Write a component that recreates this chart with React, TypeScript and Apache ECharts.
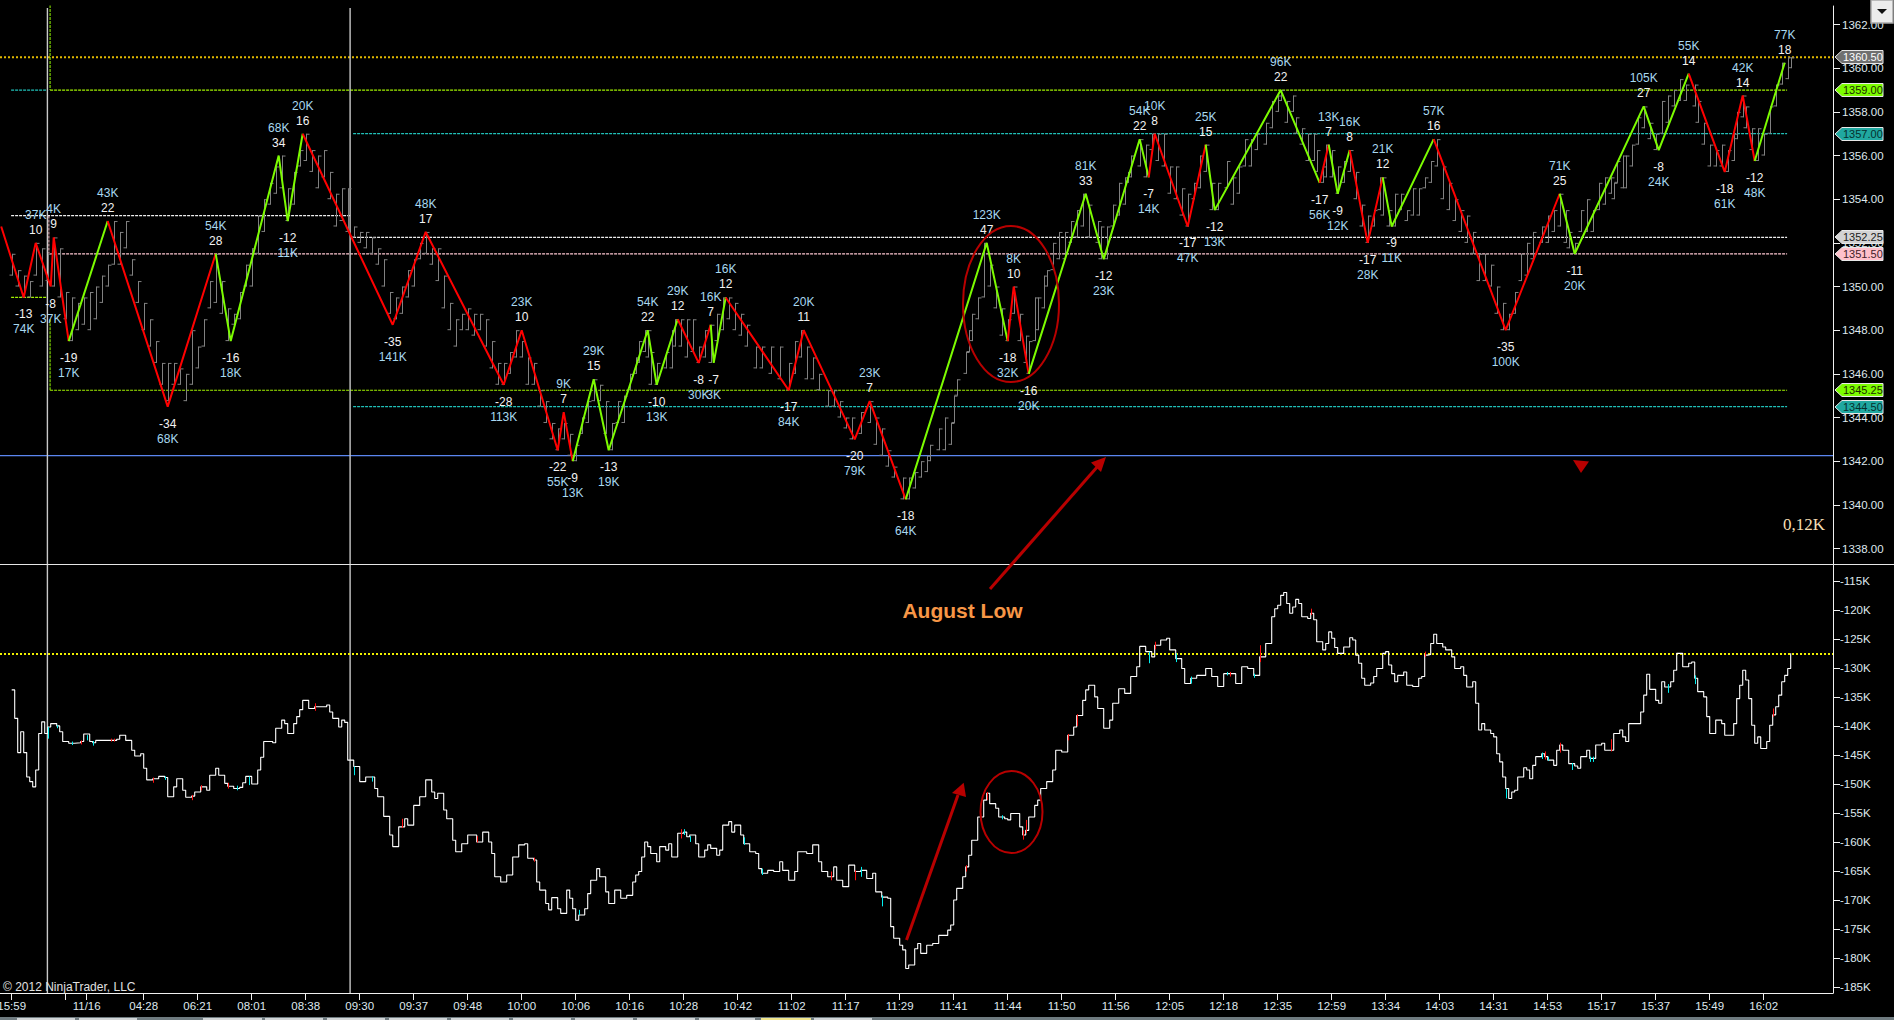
import React, { useEffect, useRef } from "react";
import * as echarts from "echarts";

const FONT = '"Liberation Sans", Arial, sans-serif';

// ---- time axis (bar numbers and their labels)
const tickBars = [0, 18, 25, 44, 62, 80, 98, 116, 134, 152, 170, 188, 206, 224, 242, 260, 278, 296, 314, 332, 350, 368, 386, 404, 422, 440, 458, 476, 494, 512, 530, 548, 566, 584];
const tickTexts = ["15:59", "", "11/16", "04:28", "06:21", "08:01", "08:38", "09:30", "09:37", "09:48", "10:00", "10:06", "10:16", "10:28", "10:42", "11:02", "11:17", "11:29", "11:41", "11:44", "11:50", "11:56", "12:05", "12:18", "12:35", "12:59", "13:34", "14:03", "14:31", "14:53", "15:17", "15:37", "15:49", "16:02"];
const priceTicks = [1338, 1340, 1342, 1344, 1346, 1348, 1350, 1352, 1354, 1356, 1358, 1360, 1362];
const deltaTicks = [-185, -180, -175, -170, -165, -160, -155, -150, -145, -140, -135, -130, -125, -120, -115];

// ---- zigzag swings
const zigBar = [-3.5, 4, 8, 13, 14, 19, 32, 52, 68, 73, 89, 92, 97, 127, 138, 164, 170, 182, 184, 187, 194, 199, 212, 215, 222, 229, 233, 234, 238, 259, 264, 281, 286, 298, 325, 332, 334, 339, 358, 364, 376, 379, 381, 392, 398, 401, 423, 436, 439, 442, 446, 452, 457, 460, 474, 498, 516, 521, 544, 549, 559, 571, 577, 581, 591];
const zigPrice = [1352.75, 1349.5, 1352, 1350, 1352.25, 1347.5, 1353, 1344.5, 1351.5, 1347.5, 1356, 1353, 1357, 1348.25, 1352.5, 1345.5, 1348, 1342.5, 1344.25, 1342, 1345.75, 1342.5, 1348, 1345.5, 1348.5, 1346.5, 1348.25, 1346.5, 1349.5, 1345.25, 1348, 1343, 1344.75, 1340.25, 1352, 1347.5, 1350, 1346, 1354.25, 1351.25, 1356.75, 1355, 1357, 1352.75, 1356.5, 1353.5, 1359, 1354.75, 1356.5, 1354.25, 1356.25, 1352, 1355, 1352.75, 1356.75, 1348, 1354.25, 1351.5, 1358.25, 1356.25, 1359.75, 1355.25, 1358.75, 1355.75, 1360.25];
const zigTicks = ["", "-13", "10", "-8", "9", "-19", "22", "-34", "28", "-16", "34", "-12", "16", "-35", "17", "-28", "10", "-22", "7", "-9", "15", "-13", "22", "-10", "12", "-8", "7", "-7", "12", "-17", "11", "-20", "7", "-18", "47", "-18", "10", "-16", "33", "-12", "22", "-7", "8", "-17", "15", "-12", "22", "-17", "7", "-9", "8", "-17", "12", "-9", "16", "-35", "25", "-11", "27", "-8", "14", "-18", "14", "-12", "18"];
const zigVolume = ["", "74K", "37K", "37K", "4K", "17K", "43K", "68K", "54K", "18K", "68K", "11K", "20K", "141K", "48K", "113K", "23K", "55K", "9K", "13K", "29K", "19K", "54K", "13K", "29K", "30K", "16K", "3K", "16K", "84K", "20K", "79K", "23K", "64K", "123K", "32K", "8K", "20K", "81K", "23K", "54K", "14K", "10K", "47K", "25K", "13K", "96K", "56K", "13K", "12K", "16K", "28K", "21K", "11K", "57K", "100K", "71K", "20K", "105K", "24K", "55K", "61K", "42K", "48K", "77K"];
// colour of each zigzag segment, in order (r = red, g = green)
const zigSegment = "rrrrrgrrggggrrrrrrrgggggrrggrrrrrggrrggggrrrgggrggrrggrrggggrrrg";

// ---- gray price bars: bar, low, high
const priceBars: number[][] = [
  [0,1350.5,1351.5],[2,1350,1350.75],[4,1349.5,1350.5],[6,1349.5,1350.25],[8,1350.5,1352],[10,1350,1351.75],[12,1350.25,1351.5],[14,1350,1352.25],[16,1349.5,1351.75],[18,1348.5,1349.75],[20,1347.5,1349.5],[22,1348,1349.25],[24,1348.25,1349.5],[26,1348,1349.75],[28,1348.5,1350],[30,1349.25,1350.5],[32,1350,1351],[34,1351,1353],[36,1351,1352.5],[38,1351.75,1353],[40,1350.5,1351.25],[42,1349.25,1350.25],[44,1348,1349.25],[46,1347.25,1348.5],[48,1346.5,1347.5],[50,1345.5,1346.5],[52,1344.75,1346.5],[54,1345.5,1346.5],[56,1345.5,1346.25],[58,1344.75,1346],[60,1345.5,1348],[62,1346.25,1347.25],[64,1347.25,1348.5],[66,1349,1350.25],[68,1349.25,1351.5],[70,1348.75,1350.25],[72,1347.5,1349],[74,1348.25,1348.75],[76,1348.5,1349.75],[78,1350,1351],[80,1350,1351.75],[82,1351.5,1353.25],[84,1352.5,1354],[86,1353.75,1354.75],[88,1354.25,1355.5],[90,1354.5,1356],[92,1353,1354.5],[94,1353.75,1355.25],[96,1355.5,1356.25],[98,1355.75,1357],[100,1355.25,1356.25],[102,1354.5,1356],[104,1355,1356.25],[106,1354,1355.25],[108,1352.75,1354.25],[110,1353,1354.5],[112,1352.5,1354.5],[114,1352.25,1352.75],[116,1352,1352.5],[118,1351.75,1352.5],[120,1351.5,1352.25],[122,1351,1351.75],[124,1350,1351.25],[126,1348.75,1349.75],[128,1348.5,1349.5],[130,1348.75,1350],[132,1349.5,1350.75],[134,1350,1351.25],[136,1351.25,1352],[138,1351.5,1352.5],[140,1351,1351.75],[142,1350.25,1351.75],[144,1349,1350.5],[146,1348,1349.25],[148,1347.25,1348.5],[150,1348,1348.75],[152,1348,1349],[154,1347.75,1348.75],[156,1348,1348.75],[158,1347.25,1348.5],[160,1346.25,1347.5],[162,1345.5,1346.5],[164,1345.5,1346.5],[166,1346,1347],[168,1346.75,1348],[170,1346.75,1347.5],[172,1345.5,1346.75],[174,1345.5,1346.5],[176,1344.5,1345.25],[178,1343.75,1344.75],[180,1343,1343.75],[182,1342.5,1343.5],[184,1343,1343.75],[186,1342.25,1343.25],[188,1342,1342.75],[190,1343.25,1344],[192,1343.75,1344.75],[194,1344.75,1345.75],[196,1344.75,1345.5],[198,1343.25,1344.75],[200,1342.5,1343.75],[202,1343.75,1344.75],[204,1343.75,1345],[206,1345.25,1346],[208,1346,1346.75],
  [209,1346.5,1347.5],[211,1347,1348],[212,1346.75,1348],[213,1345.5,1347],[215,1345.5,1346.5],[218,1346.25,1347],[220,1346.25,1348],[221,1347.25,1348.5],[223,1347.25,1348.5],[225,1346.75,1348.5],[227,1347,1348.5],[229,1346.5,1347.25],[231,1346.75,1348],[233,1346.5,1348.25],[235,1347.5,1348.75],[237,1348,1349.5],[239,1348.5,1349.5],[241,1348,1349.25],[243,1347.75,1348.75],[245,1347.25,1348.25],[248,1346.25,1347.25],[250,1346.25,1347.25],[253,1346,1347.25],[256,1345.75,1347.25],[259,1345.25,1346.5],[261,1346,1347.5],[263,1346.75,1348],[265,1345.75,1347.25],[267,1345.75,1346.75],[269,1345.25,1346],[272,1344.5,1345.25],[274,1344.5,1345.25],[276,1344,1344.75],[278,1343.5,1344],[280,1343,1344],[283,1343.25,1344.25],[286,1343.75,1344.75],[288,1342.75,1344],[290,1342.25,1343.5],[292,1341.75,1342.5],[294,1341.25,1341.75],[297,1340.25,1341.25],[299,1340.25,1341.25],[301,1340.75,1341.5],[303,1341.25,1342],[305,1341.5,1342.25],[306,1342,1342.75],[309,1342.5,1343.5],[311,1342.5,1344],[313,1342.75,1343.75],[314,1343.75,1345],[315,1345,1345.75],[318,1346,1347],[319,1347,1348],[320,1347.5,1348.75],[322,1348.5,1349.5],[324,1349.5,1352],[326,1350,1351],[328,1349,1350],[330,1347.75,1349],[332,1347.5,1348.5],[334,1348.75,1350],[336,1347.5,1348.75],[338,1346.5,1347.75],[339,1346,1347.5],[341,1347.5,1349.5],[342,1348,1349.5],[344,1349,1350.5],[345,1350,1350.75],[347,1350.75,1352],[349,1351.25,1352.5],[351,1351.25,1352.5],[353,1352,1353],[355,1352.25,1353.5],[357,1352.75,1354.25],[359,1352.25,1353.75],[362,1352,1353],[363,1351.25,1352.75],[365,1351.25,1352.75],[367,1352.75,1353.75],[369,1353.25,1354.75],[371,1353.75,1355],[372,1354.75,1355.25],[373,1355,1356],[376,1355.5,1356.75],[378,1355,1356.5],[380,1356.25,1357],[382,1355.75,1357],[384,1355.5,1357],[386,1354.25,1355.5],[388,1354,1355.5],[390,1353.25,1354.5],[392,1352.75,1354.25],[394,1354,1354.75],[396,1354.5,1356],[398,1355.25,1356.5],[400,1353.5,1354.75],[402,1353.5,1354.75],[405,1354.5,1355.75],[407,1353.75,1355],[409,1354.25,1355.5],[411,1355.5,1356.75],[413,1355.5,1356.75],[415,1356.25,1357],[418,1356.5,1357.5],[420,1357.25,1358.5],[422,1358,1358.75],
  [423,1358.5,1359],[425,1357.5,1358.5],[427,1358,1358.75],[428,1357,1357.75],[430,1356.5,1357.25],[432,1355.75,1357],[434,1355.75,1357],[435,1355.25,1356.25],[437,1354.75,1355.5],[438,1355,1356.5],[440,1355,1356.25],[442,1354.25,1355.5],[444,1354.75,1355.75],[446,1355.25,1356.25],[448,1354,1355.25],[450,1352.75,1353.75],[452,1352,1353.25],[454,1352.75,1353.5],[456,1353.5,1355],[457,1353.25,1355],[459,1352.75,1353.5],[461,1352.75,1354.25],[463,1353.5,1354.25],[465,1353,1353.5],[467,1353.25,1354.5],[469,1353.25,1354.5],[471,1354.5,1355],[473,1354.75,1355.75],[475,1355.5,1356.75],[477,1354,1355.5],[479,1353.5,1354.75],[481,1353,1354],[483,1352.5,1353.5],[485,1352,1353.25],[487,1351.5,1352.5],[489,1350.25,1351.5],[491,1350.25,1351.5],[493,1350,1351],[495,1348.75,1350],[497,1348,1349.25],[499,1348,1348.75],[501,1348.75,1349.75],[503,1350.25,1351.5],[505,1350.5,1352],[507,1351.25,1352.5],[510,1352,1352.75],[512,1352,1353.25],[514,1352.5,1353.5],[516,1352.75,1354.25],[518,1352,1353.5],[519,1351.75,1352.5],[521,1351.5,1352],[523,1352.5,1353.5],[525,1352.5,1354],[527,1352.5,1353.5],[529,1353.5,1354.75],[531,1353.75,1355],[533,1354.25,1355],[534,1354,1354.75],[535,1354.75,1355.75],[537,1354.5,1356],[538,1354.5,1356],[540,1355.5,1356.5],[542,1356.5,1357.75],[544,1357.25,1358.25],[546,1356.75,1357.5],[548,1356.25,1357],[550,1357,1358.5],[552,1357.5,1358.75],[554,1358.25,1359],[556,1358.5,1359.5],[558,1358.5,1359.25],[561,1358.25,1359.25],[562,1357.5,1358.5],[564,1356.5,1357.5],[566,1355.5,1356.5],[568,1355.5,1356.25],[570,1355.5,1356.5],[572,1355.25,1356.25],[574,1355.75,1357],[575,1356.75,1358],[577,1357.75,1358.75],[578,1357.25,1358.25],[580,1356.25,1357.25],[582,1355.75,1357.25],[584,1356,1357],[586,1357,1358.25],[588,1358.25,1359.25],[590,1359.25,1360.25],[592,1359.5,1360.5],[593,1360,1360.5],
];

// ---- lower pane: cumulative delta, thousands (bar, value)
const deltaEarly: number[][] = [
  [0,-133.8],[1,-138.7],[2,-144.6],[3,-141],[4,-144.6],[5,-148.8],[6,-149.6],[7,-150.5],[8,-147.6],[9,-141.3],[10,-139.3],[11,-141.3],[12,-140.2],[13,-139.6],[14,-139.6],[15,-140],[16,-141],[17,-142.7],[19,-143],[21,-142.9],[23,-142.7],[24,-141.4],[26,-142.7],[27,-142.9],[28,-142.5],[33,-142.5],[35,-142.3],[36,-141.6],[38,-142.5],[40,-144.2],[41,-145.2],[43,-144.8],[44,-147.3],[45,-149.3],[47,-149.1],[49,-148.7],[51,-148.9],[52,-152.2],[54,-150.5],[55,-149.1],[57,-151.1],[58,-152.3],[60,-152.1],[61,-151.4],[63,-150.5],[65,-151.1],[66,-148.5],[68,-147.3],[69,-148.5],[71,-149.9],[72,-150.4],[74,-150.8],[76,-150.6],[77,-149.8],[78,-148.7],[80,-150],[82,-147.6],[83,-145.4],[84,-142.7],[87,-142.9],[88,-140.4],[90,-139],[91,-139.6],[92,-141.3],[94,-139.6],[95,-138.4],[96,-137.2],[97,-135.6],[99,-137],[101,-136.7],[103,-136.7],[105,-136.4],[106,-137.6],[107,-138.7],[109,-140.2],[110,-139],[111,-139.4],[112,-145.9],[114,-147],[116,-149.6],[118,-148.8],[120,-148.8],[121,-150.8],[122,-152.2],[124,-155.6],[126,-158.8],[127,-160.8],[129,-157.4],[131,-156],[132,-157.1],[134,-153.7],[136,-152.2],[138,-149.3],[140,-151.4],[141,-152.5],[142,-151.6],[144,-154.5],[145,-156],[147,-159.7],[148,-161.7],[150,-160.3],[152,-158.8],[155,-160],[157,-158.3],[159,-160],[160,-162],[161,-166],[163,-166.9],[165,-165.7],[167,-162.6],[169,-160.5],[171,-160.3],[172,-162.8],[174,-163.1],[175,-166.9],[176,-168.3],[178,-170.6],[179,-171.7],[180,-169.6],[182,-171.5],[183,-172.3],[185,-168.3],[186,-169.7],[187,-171.5],[188,-173.5],[189,-172.6],[191,-171.5],[192,-168.9],[193,-166.6],[195,-164.6],[196,-166],[198,-168.6],[199,-170.6],[201,-168.3],[203,-169.7],[205,-169.2],[207,-166.9],[208,-165.7],
];
const deltaMiddle: number[][] = [
  [209,-165.1],[210,-162.6],[211,-160],[212,-160.8],[213,-162],[215,-163.4],[216,-160.8],[218,-161.4],[219,-160.3],[220,-162.6],[222,-158.5],[224,-158.3],[225,-159.1],[226,-158.8],[228,-160.3],[229,-162.6],[231,-161.4],[232,-160.5],[233,-161.1],[235,-162.3],[236,-161.4],[237,-157.1],[239,-156.5],[240,-158.3],[241,-157.1],[243,-158.8],[244,-160.3],[246,-161.7],[248,-162],[249,-164.6],[250,-165.4],[252,-164.9],[254,-165.1],[256,-163.4],[257,-164.9],[259,-166.6],[261,-165.1],[262,-161.7],[265,-162],[267,-160.5],[269,-163.4],[270,-165.1],[272,-166],[274,-164.3],[275,-166.6],[277,-167.7],[279,-164],[281,-165.1],[283,-164.9],[285,-166.3],[287,-165.4],[288,-168.6],[290,-169.5],[292,-169.7],[293,-174.6],[294,-176.6],[296,-177.8],[297,-178.6],[298,-181.8],[299,-181.2],[301,-178.4],[302,-177.5],[303,-179.2],[305,-177.8],[307,-177.5],[309,-176.1],[312,-175.2],[313,-174.3],[314,-170],[315,-168],[317,-166],[318,-164.3],[319,-162.3],[320,-159.7],[322,-155.7],[324,-152.8],[325,-151.6],[326,-153.4],[328,-154.2],[329,-155.7],[331,-156],[332,-156.2],[333,-155.1],[335,-155.1],[336,-157.4],[337,-158.8],[338,-158],[339,-155.7],[341,-153.7],[342,-152.8],[343,-150.8],[345,-149.6],[347,-147.6],[348,-144.2],[350,-144.5],[352,-141.6],[354,-140.2],[355,-138.2],[357,-135.6],[358,-133.8],[359,-133],[361,-135],[362,-137],[364,-140.4],[366,-139],[367,-136.1],[369,-133.6],[371,-134.4],[373,-131.5],[375,-129.8],[376,-126.3],[378,-127.2],[380,-128.1],[381,-126.1],[383,-125.2],[385,-124.9],[386,-126.9],[388,-128.4],[390,-130.1],[391,-132.7],[393,-131.8],[395,-131.3],[398,-130.1],[400,-131.5],[402,-133.2],[404,-131],[406,-131],[408,-132.7],[410,-129.8],[412,-130.1],[414,-131.3],[416,-128.1],[418,-125.8],[420,-121.2],[421,-119.8],[422,-119.2],
];
const deltaLate: number[][] = [
  [423,-117.5],[424,-117],[425,-118.9],[426,-120.6],[427,-119.5],[428,-118.2],[429,-118.9],[430,-121.2],[432,-121.5],[433,-120.6],[434,-121.7],[435,-125.5],[437,-126.9],[438,-125.8],[439,-123.8],[440,-124.9],[441,-126.5],[442,-127.5],[444,-126.4],[446,-124.8],[447,-125.2],[448,-127.8],[449,-129.2],[450,-131.8],[451,-133],[453,-132.6],[454,-131.5],[455,-130.1],[457,-127.5],[458,-127.2],[459,-129.5],[460,-131],[461,-132.4],[462,-131.3],[464,-130.7],[465,-133],[467,-133.2],[469,-131.8],[470,-131.5],[471,-127.8],[472,-127.7],[473,-125.8],[474,-124.2],[475,-125.8],[477,-126.4],[478,-126.9],[480,-128.1],[481,-130.1],[483,-129.8],[484,-131.3],[485,-133.3],[487,-132.4],[488,-136.1],[489,-140.7],[490,-139.6],[491,-140.7],[493,-141.3],[494,-141.9],[495,-144.8],[496,-146.2],[497,-148.8],[498,-150.8],[499,-152.5],[500,-151.4],[501,-151.1],[502,-148.8],[504,-147.2],[505,-147.6],[506,-149.1],[507,-146.8],[508,-145.3],[510,-144.8],[511,-145.3],[512,-145.9],[514,-146.8],[515,-144.2],[516,-143.3],[517,-144.2],[519,-146.5],[521,-146.9],[522,-147.3],[523,-145.3],[525,-144.2],[526,-145.6],[527,-145.6],[528,-143.3],[530,-143],[531,-144.2],[533,-144.2],[534,-141.3],[536,-140.7],[537,-141.9],[538,-142.7],[539,-139.6],[541,-139.6],[543,-137.6],[544,-134.7],[545,-131.1],[546,-133.7],[548,-135.6],[549,-136.1],[550,-132.4],[551,-133.3],[553,-132.4],[554,-130.4],[555,-127.5],[557,-129.8],[559,-129.2],[560,-129],[561,-131.8],[562,-134.1],[564,-135],[565,-138.4],[566,-141.3],[568,-139],[570,-139.6],[571,-141.6],[573,-141.6],[574,-139.6],[575,-135.3],[576,-133],[577,-130.4],[578,-132.1],[579,-135.3],[580,-139.9],[581,-143],[582,-141.9],[583,-143.9],[585,-142.7],[586,-139.9],[587,-138.1],[588,-136.7],[589,-134.7],[590,-132.4],[591,-131.3],[592,-130.1],[593,-127.5],
];
// highlighted delta bars: bar, top, bottom
const deltaRed: number[][] = [[23,-142.5,-143.2],[33,-142.2,-142.7],[34,-142.2,-142.7],[47,-148.9,-149.8],[60,-151.9,-152.8],[63,-150.2,-151.1],[72,-149.8,-150.8],[101,-136.1,-137.4],[130,-156,-157.6],[155,-159,-160.1],[174,-162.7,-163.4],[223,-157.8,-159.4],[273,-165.1,-166.6],[281,-164.9,-166.6],[318,-164,-165.1],[325,-151.4,-152.8],[337,-158,-159.6],[338,-156.2,-158.5],[352,-141.4,-142.5],[355,-138,-140],[381,-125.5,-126.8],[406,-130.7,-131.5],[416,-126.1,-129],[433,-119.8,-120.9],[471,-127.2,-128.1],[511,-144.4,-145.8],[516,-142.9,-144.6],[533,-142.3,-144.4],[587,-137,-138.4]];
const deltaCyan: number[][] = [[12,-140.2,-142.2],[15,-139.9,-140.4],[20,-142.7,-143.3],[25,-141.6,-142.5],[27,-142.6,-143.4],[51,-148.7,-149.3],[75,-150.3,-151.1],[79,-148.7,-150.2],[114,-147,-148.5],[120,-148.7,-149.6],[189,-171.7,-172.6],[224,-157.8,-158.8],[226,-159,-160],[244,-159.2,-160.5],[250,-164.6,-165.7],[283,-164.3,-166],[290,-169.2,-171.1],[330,-155.4,-156.1],[379,-127.2,-129.2],[388,-127.5,-129],[393,-131.5,-132.7],[405,-130.7,-131.3],[414,-131,-131.7],[498,-150.8,-152.5],[510,-144.6,-145.7],[512,-145.3,-146],[520,-146.4,-147.6],[526,-145.3,-146.2],[527,-145.3,-146.2],[552,-132.8,-134.3],[561,-131.3,-132.8]];

// ---- horizontal levels
const levelPrices = [1359, 1359, 1357, 1353.25, 1352.25, 1351.5, 1349.5, 1345.25, 1344.5];
const levelFrom = [12.8, -0.2, 113.8, -0.2, 113.8, 12.8, -0.2, 12.8, 113.8];
const levelTo = [591.8, 11.9, 591.8, 112.8, 591.8, 591.8, 11.5, 591.8, 591.8];
const levelColors = ["#a0f000", "#20c0b8", "#20c0b8", "#eeeeee", "#eeeeee", "#ffc8d2", "#a0f000", "#a0f000", "#20c0b8"];
const highPrice = 1360.5;
const blueLevel = 1342.25;
const deltaLevel = -127.6;

// ---- price tags on the right
const tagPrices = [1360.5, 1359, 1357, 1352.25, 1351.5, 1345.25, 1344.5];
const tagFills = ["#707070", "#7cfc00", "#20a8a0", "#d3d3d3", "#ffc0cb", "#7cfc00", "#20a8a0"];
const tagTexts = ["#ffffff", "#1c2a00", "#06302e", "#202020", "#402028", "#1c2a00", "#06302e"];

const X_MIN = -3.9;
const X_MAX = 607.1;
const GREEN = "#7cfc00";
const RED = "#ff0000";

function level(y: number, from: number, to: number, color: string, dash: any, width: number, xi = 0): any {
  return {
    type: "line", xAxisIndex: xi, yAxisIndex: xi, silent: true, showSymbol: false, z: 2,
    data: [[from, y], [to, y]],
    lineStyle: { color, width, type: dash },
  };
}
function vertical(x: number, top: number, bottom: number, color: string, dash: any, width: number, xi = 0): any {
  return {
    type: "line", xAxisIndex: xi, yAxisIndex: xi, silent: true, showSymbol: false, z: 2,
    data: [[x, top], [x, bottom]],
    lineStyle: { color, width, type: dash },
  };
}

function App() {
  const ref = useRef<HTMLDivElement>(null);
  useEffect(() => {
    document.body.style.margin = "0";
    document.body.style.background = "#000";
    const chart = echarts.init(ref.current as HTMLDivElement, undefined, { renderer: "svg" });

    // zigzag runs of one colour
    const zigSeries: any[] = [];
    let start = 0;
    for (let s = 1; s < zigBar.length; s++) {
      const c = zigSegment[s - 1];
      if (s === zigBar.length - 1 || zigSegment[s] !== c) {
        const pts = [];
        for (let k = start; k <= s; k++) pts.push([zigBar[k], zigPrice[k]]);
        zigSeries.push({
          type: "line", xAxisIndex: 0, yAxisIndex: 0, silent: true, showSymbol: false, z: 4,
          data: pts, lineStyle: { color: c === "g" ? GREEN : RED, width: 2 },
        });
        start = s;
      }
    }

    // swing labels
    const labelData = zigBar.map((b, i) => {
      if (!zigVolume[i]) return null;
      const peak = zigPrice[i] > zigPrice[i - 1];
      return {
        value: [b, zigPrice[i]],
        label: {
          position: peak ? "top" : "bottom",
          distance: peak ? 5 : 9,
          formatter: peak ? `{k|${zigVolume[i]}}\n{n|${zigTicks[i]}}` : `{n|${zigTicks[i]}}\n{k|${zigVolume[i]}}`,
        },
      };
    }).filter(Boolean);

    const ohlcItem = (color: string, wickTick: boolean) => (_: any, api: any) => {
      const b = api.value(0);
      const a = api.coord([b, api.value(1)]);
      const c = api.coord([b, api.value(2)]);
      const x = Math.round(a[0]) + 0.5;
      const children: any[] = [
        { type: "line", shape: { x1: x, y1: a[1], x2: x, y2: c[1] }, style: { stroke: color, lineWidth: 1 } },
      ];
      if (wickTick) {
        children.push({ type: "line", shape: { x1: x - 3, y1: a[1] - 0.5, x2: x, y2: a[1] - 0.5 }, style: { stroke: color, lineWidth: 1 } });
        children.push({ type: "line", shape: { x1: x, y1: c[1] + 0.5, x2: x + 3, y2: c[1] + 0.5 }, style: { stroke: color, lineWidth: 1 } });
      }
      return { type: "group", children };
    };

    const tagItem = (p: any, api: any) => {
      const i = p.dataIndex;
      const c = api.coord([X_MAX, api.value(1)]);
      const x0 = c[0] + 2;
      const y = Math.round(c[1]);
      return {
        type: "group",
        children: [
          {
            type: "polygon",
            shape: { points: [[x0, y], [x0 + 7, y - 6.5], [x0 + 48, y - 6.5], [x0 + 48, y + 6.5], [x0 + 7, y + 6.5]] },
            style: { fill: tagFills[i], stroke: "#e8e8e8", lineWidth: 1 },
          },
          {
            type: "text",
            style: { text: tagPrices[i].toFixed(2), x: x0 + 8, y, fill: tagTexts[i], font: `11px ${FONT}`, textVerticalAlign: "middle", verticalAlign: "middle" },
          },
        ],
      };
    };

    const series: any[] = [
      level(highPrice, X_MIN, X_MAX, "#e0b800", [2, 2], 2),
      ...levelPrices.map((p, i) => level(p, levelFrom[i], levelTo[i], levelColors[i], [3, 1], 1.2)),
      level(blueLevel, X_MIN, X_MAX, "#5b86f0", "solid", 1.2),
      vertical(12.8, 1362.9, 1359, "#7cd000", [3, 1], 1.2),
      vertical(12.8, 1348.5, 1345.25, "#7cd000", [3, 1], 1.2),
      vertical(12.4, 1353.25, 1351.5, "#ffc0cb", [3, 1], 1),
      vertical(11.9, 1362.76, 1337.29, "#c8c8c8", "solid", 1.4),
      vertical(112.8, 1362.76, 1337.29, "#c8c8c8", "solid", 1.4),
      vertical(11.9, -112.1, -186.03, "#c8c8c8", "solid", 1.4, 1),
      vertical(112.8, -112.1, -186.03, "#c8c8c8", "solid", 1.4, 1),
      level(deltaLevel, X_MIN, X_MAX, "#f0f000", [2, 2], 2, 1),
      {
        type: "custom", xAxisIndex: 0, yAxisIndex: 0, silent: true, z: 3, data: priceBars,
        encode: { x: 0, y: [1, 2] }, renderItem: ohlcItem("#808080", true),
      },
      ...zigSeries,
      {
        type: "scatter", xAxisIndex: 0, yAxisIndex: 0, silent: true, z: 5, symbolSize: 1,
        itemStyle: { color: "rgba(0,0,0,0)" }, data: labelData,
        label: {
          show: true,
          opacity: 1,
          fontFamily: FONT,
          rich: {
            k: { color: "#a8d8f0", fontSize: 12, lineHeight: 15, fontFamily: FONT },
            n: { color: "#f2f2f2", fontSize: 12, lineHeight: 15, fontFamily: FONT },
          },
        },
      },
      {
        type: "line", xAxisIndex: 1, yAxisIndex: 1, silent: true, showSymbol: false, z: 3, step: "end",
        data: [...deltaEarly, ...deltaMiddle, ...deltaLate], lineStyle: { color: "#ffffff", width: 1.1 },
      },
      {
        type: "custom", xAxisIndex: 1, yAxisIndex: 1, silent: true, z: 4, data: deltaRed,
        encode: { x: 0, y: [1, 2] }, renderItem: ohlcItem("#ff1010", false),
      },
      {
        type: "custom", xAxisIndex: 1, yAxisIndex: 1, silent: true, z: 4, data: deltaCyan,
        encode: { x: 0, y: [1, 2] }, renderItem: ohlcItem("#00f0f0", false),
      },
      {
        type: "custom", xAxisIndex: 0, yAxisIndex: 0, silent: true, z: 6, clip: false,
        data: tagPrices.map((p) => [X_MAX, p]), encode: { x: 0, y: 1 }, renderItem: tagItem,
      },
    ];

    const yAxisBase = {
      position: "right", splitLine: { show: false },
      axisLine: { show: true, onZero: false, lineStyle: { color: "#f0f0f0", width: 1 } },
    };
    const deep = "#b80000";
    chart.setOption({
      animation: false,
      backgroundColor: "#000000",
      textStyle: { fontFamily: FONT },
      tooltip: { show: false },
      legend: { show: false },
      grid: [
        { left: 0, top: 6, width: 1833, height: 558, containLabel: false, outerBoundsMode: "none" },
        { left: 0, top: 564, width: 1833, height: 429, containLabel: false, outerBoundsMode: "none" },
      ],
      xAxis: [
        { type: "value", gridIndex: 0, min: X_MIN, max: X_MAX, show: false, splitLine: { show: false } },
        {
          type: "value", gridIndex: 1, min: X_MIN, max: X_MAX, position: "bottom", splitLine: { show: false },
          axisLine: { show: true, onZero: false, lineStyle: { color: "#f0f0f0", width: 1 } },
          axisTick: { show: true, length: 7, customValues: tickBars, lineStyle: { color: "#f0f0f0" } },
          axisLabel: {
            show: true, margin: 7, color: "#dfe8ee", fontSize: 11.5, fontFamily: FONT,
            customValues: tickBars.filter((_, i) => tickTexts[i] !== ""),
            formatter: (v: number) => tickTexts[tickBars.indexOf(v)],
          },
        },
      ],
      yAxis: [
        {
          ...yAxisBase, type: "value", gridIndex: 0, min: 1337.29, max: 1362.85,
          axisTick: { show: true, length: 7, customValues: priceTicks, lineStyle: { color: "#f0f0f0" } },
          axisLabel: {
            show: true, margin: 9, color: "#dfe8ee", fontSize: 11.5, fontFamily: FONT,
            customValues: priceTicks, formatter: (v: number) => v.toFixed(2),
          },
        },
        {
          ...yAxisBase, type: "value", gridIndex: 1, min: -186.03, max: -112.1,
          axisTick: { show: true, length: 7, customValues: deltaTicks, lineStyle: { color: "#f0f0f0" } },
          axisLabel: {
            show: true, margin: 7, color: "#dfe8ee", fontSize: 11.5, fontFamily: FONT,
            customValues: deltaTicks, formatter: (v: number) => `${v}K`,
          },
        },
      ],
      graphic: {
        elements: [
          { type: "line", silent: true, z: 10, shape: { x1: 0, y1: 564.5, x2: 1894, y2: 564.5 }, style: { stroke: "#e6e6e6", lineWidth: 1 } },
          // window strip
          { type: "rect", silent: true, z: 10, shape: { x: 0, y: 1017, width: 1894, height: 3 }, style: { fill: "#6f7b80" } },
          ...[[17, 58], [79, 58], [203, 59], [265, 58], [327, 58], [389, 58], [451, 58], [513, 58], [575, 58], [637, 58], [699, 56], [814, 58]].map(([x, w]) => ({
            type: "rect", silent: true, z: 11, shape: { x, y: 1018, width: w, height: 2 }, style: { fill: "#d0d4d6" },
          })),
          { type: "rect", silent: true, z: 11, shape: { x: 761, y: 1018, width: 50, height: 2 }, style: { fill: "#f0e68c" } },
          // drop-down button
          { type: "rect", silent: true, z: 12, shape: { x: 1871, y: 0, width: 22, height: 23 }, style: { fill: "#ececec", stroke: "#a8a8a8", lineWidth: 1.5 } },
          { type: "polygon", silent: true, z: 13, shape: { points: [[1877, 9], [1887, 9], [1882, 14]] }, style: { fill: "#101010" } },
          // annotations
          { type: "ellipse", silent: true, z: 20, shape: { cx: 1011, cy: 304, rx: 48, ry: 78 }, style: { fill: "none", stroke: deep, lineWidth: 2 } },
          { type: "ellipse", silent: true, z: 20, shape: { cx: 1011.5, cy: 812, rx: 31, ry: 41 }, style: { fill: "none", stroke: deep, lineWidth: 2 } },
          { type: "line", silent: true, z: 20, shape: { x1: 990, y1: 589, x2: 1098, y2: 466 }, style: { stroke: deep, lineWidth: 3 } },
          { type: "polygon", silent: true, z: 20, shape: { points: [[1106, 457], [1091, 462.5], [1101, 472]] }, style: { fill: deep } },
          { type: "line", silent: true, z: 20, shape: { x1: 906.5, y1: 940, x2: 958, y2: 795 }, style: { stroke: deep, lineWidth: 3 } },
          { type: "polygon", silent: true, z: 20, shape: { points: [[963.7, 782.7], [952, 793], [966, 797]] }, style: { fill: deep } },
          { type: "polygon", silent: true, z: 20, shape: { points: [[1573, 460], [1589, 461.5], [1581, 473]] }, style: { fill: deep } },
          {
            type: "text", silent: true, z: 20, x: 962.5, y: 610.5,
            style: { text: "August Low", fill: "#f79646", font: `bold 21px ${FONT}`, textAlign: "center", textVerticalAlign: "middle", align: "center", verticalAlign: "middle" },
          },
          {
            type: "text", silent: true, z: 20, x: 1804, y: 524,
            style: { text: "0,12K", fill: "#f5deb3", font: '17px "Liberation Serif", serif', textAlign: "center", textVerticalAlign: "middle", align: "center", verticalAlign: "middle" },
          },
          {
            type: "text", silent: true, z: 20, x: 3, y: 987,
            style: { text: "© 2012 NinjaTrader, LLC", fill: "#e0e0e0", font: `12px ${FONT}`, textVerticalAlign: "middle", verticalAlign: "middle" },
          },
        ],
      },
      series,
    });
    return () => chart.dispose();
  }, []);
  return <div ref={ref} style={{ position: "fixed", left: 0, top: 0, width: 1894, height: 1020, background: "#000" }} />;
}

export default App;
